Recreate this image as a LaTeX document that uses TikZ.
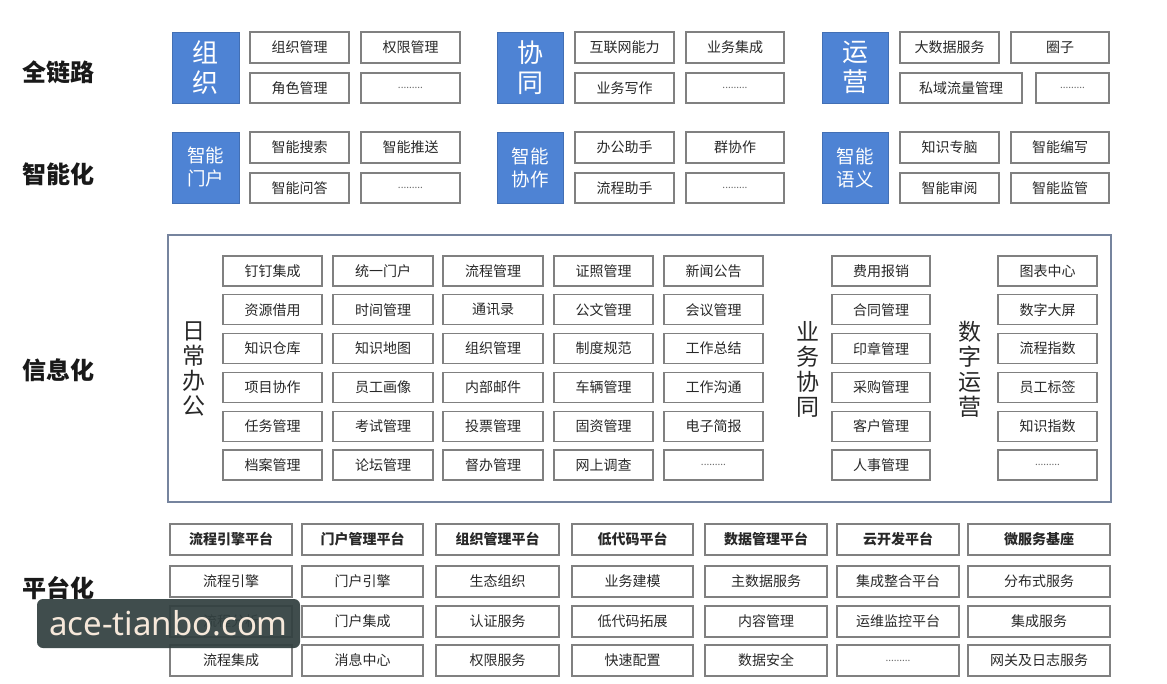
\documentclass[tikz,border=0pt]{standalone}
\usepackage{fontspec}
\setmainfont{Noto Sans CJK SC}
\newfontfamily\wmfont{Noto Sans}
\definecolor{blueb}{RGB}{78,131,212}
\definecolor{boxgray}{RGB}{128,128,128}
\definecolor{txt}{RGB}{40,40,40}
\definecolor{frameb}{RGB}{118,132,158}
\definecolor{wmbg}{RGB}{50,64,64}
\definecolor{wmtx}{RGB}{246,232,218}
\definecolor{dotc}{RGB}{105,105,105}
\newcommand\dotsx{{\fontsize{10}{10}\selectfont\color{dotc}\raisebox{-1pt}{.........}}}
\newcommand\bx[7][]{\node[box,#1,minimum width={(#5-#3)*1pt},minimum height={(#6-#4)*1pt}] (#2) at ({(#3+#5)/2},{(#4+#6)/2}) {#7};}
\begin{document}
\begin{tikzpicture}[x=1pt,y=-1pt,
  box/.style={draw=boxgray,line width=1.3pt,fill=white,inner sep=0pt,text=txt,font=\fontsize{14}{16}\selectfont},
  bluebox/.style={box,fill=blueb,draw=blueb!85!black,line width=0.8pt,text=white,align=center},
  bigtxt/.style={font=\fontsize{26}{30}\selectfont},
  midtxt/.style={font=\fontsize{18.5}{23}\selectfont},
  bold/.style={font=\fontsize{14}{16}\selectfont\bfseries},
  framebox/.style={draw=frameb,line width=1.3pt,fill=none},
  lab/.style={font=\fontsize{24}{26}\selectfont\bfseries,text=black!90},
  vlab/.style={font=\fontsize{23}{25}\selectfont,text=txt,align=center,inner sep=0pt},
  wm/.style={fill=wmbg,fill opacity=0.93,text opacity=1,text=wmtx,rounded corners=6pt,inner sep=0pt,font=\wmfont\fontsize{33}{33}\selectfont}
]
\fill[white] (0,0) rectangle (1167,684);
\useasboundingbox (0,0) rectangle (1167,684);

% section labels
\node[lab] (l1) at (58,72) {全链路};
\node[lab] (l2) at (58,174) {智能化};
\node[lab] (l3) at (58,370) {信息化};
\node[lab] (l4) at (58,588) {平台化};

% ---- 全链路 ----
\bx[bluebox,bigtxt]{b1}{172}{32}{239}{103}{组\\织}
\bx{t11}{250}{32}{349}{63}{组织管理}
\bx{t12}{361}{32}{460}{63}{权限管理}
\bx{t13}{250}{73}{349}{103}{角色管理}
\bx{t14}{361}{73}{460}{103}{\dotsx}
\bx[bluebox,bigtxt]{b2}{497}{32}{563}{103}{协\\同}
\bx{t21}{575}{32}{674}{63}{互联网能力}
\bx{t22}{686}{32}{784}{63}{业务集成}
\bx{t23}{575}{73}{674}{103}{业务写作}
\bx{t24}{686}{73}{784}{103}{\dotsx}
\bx[bluebox,bigtxt]{b3}{822}{32}{888}{103}{运\\营}
\bx{t31}{900}{32}{999}{63}{大数据服务}
\bx{t32}{1011}{32}{1109}{63}{圈子}
\bx{t33}{900}{73}{1022}{103}{私域流量管理}
\bx{t34}{1036}{73}{1109}{103}{\dotsx}

% ---- 智能化 ----
\bx[bluebox,midtxt]{c1}{172}{132}{239}{203}{智能\\门户}
\bx{s11}{250}{132}{349}{163}{智能搜索}
\bx{s12}{361}{132}{460}{163}{智能推送}
\bx{s13}{250}{173}{349}{203}{智能问答}
\bx{s14}{361}{173}{460}{203}{\dotsx}
\bx[bluebox,midtxt]{c2}{497}{132}{563}{203}{智能\\协作}
\bx{s21}{575}{132}{674}{163}{办公助手}
\bx{s22}{686}{132}{784}{163}{群协作}
\bx{s23}{575}{173}{674}{203}{流程助手}
\bx{s24}{686}{173}{784}{203}{\dotsx}
\bx[bluebox,midtxt]{c3}{822}{132}{888}{203}{智能\\语义}
\bx{s31}{900}{132}{999}{163}{知识专脑}
\bx{s32}{1011}{132}{1109}{163}{智能编写}
\bx{s33}{900}{173}{999}{203}{智能审阅}
\bx{s34}{1011}{173}{1109}{203}{智能监管}

% ---- 信息化 ----
\bx[framebox,fill=none]{frame}{168}{235}{1111}{502}{}
\node[vlab] (v1) at (194,369) {日\\常\\办\\公};
\node[vlab] (v2) at (808,369) {业\\务\\协\\同};
\node[vlab] (v3) at (970,369) {数\\字\\运\\营};
\foreach \r/\ta/\tb/\tc/\td/\te/\tf/\tg in {
  0/钉钉集成/统一门户/流程管理/证照管理/新闻公告/费用报销/图表中心,
  1/资源借用/时间管理/通讯录/公文管理/会议管理/合同管理/数字大屏,
  2/知识仓库/知识地图/组织管理/制度规范/工作总结/印章管理/流程指数,
  3/项目协作/员工画像/内部邮件/车辆管理/工作沟通/采购管理/员工标签,
  4/任务管理/考试管理/投票管理/固资管理/电子简报/客户管理/知识指数,
  5/档案管理/论坛管理/督办管理/网上调查/\dotsx/人事管理/\dotsx}{
  \pgfmathsetmacro\yt{256+38.8*\r}
  \pgfmathsetmacro\yb{\yt+30}
  \bx{m\r a}{223}{\yt}{322}{\yb}{\ta}
  \bx{m\r b}{333}{\yt}{433}{\yb}{\tb}
  \bx{m\r c}{443}{\yt}{543}{\yb}{\tc}
  \bx{m\r d}{554}{\yt}{653}{\yb}{\td}
  \bx{m\r e}{664}{\yt}{763}{\yb}{\te}
  \bx{m\r f}{832}{\yt}{930}{\yb}{\tf}
  \bx{m\r g}{998}{\yt}{1097}{\yb}{\tg}
}

% ---- 平台化 ----
\foreach \r/\yt/\yb/\st/\ta/\tb/\tc/\td/\te/\tf/\tg in {
  0/524/555/bold/流程引擎平台/门户管理平台/组织管理平台/低代码平台/数据管理平台/云开发平台/微服务基座,
  1/566/597/box/流程引擎/门户引擎/生态组织/业务建模/主数据服务/集成整合平台/分布式服务,
  2/606/637/box/流程分析/门户集成/认证服务/低代码拓展/内容管理/运维监控平台/集成服务,
  3/645/676/box/流程集成/消息中心/权限服务/快速配置/数据安全/\dotsx/网关及日志服务}{
  \bx[\st]{p\r a}{170}{\yt}{292}{\yb}{\ta}
  \bx[\st]{p\r b}{302}{\yt}{423}{\yb}{\tb}
  \bx[\st]{p\r c}{436}{\yt}{559}{\yb}{\tc}
  \bx[\st]{p\r d}{572}{\yt}{693}{\yb}{\td}
  \bx[\st]{p\r e}{705}{\yt}{827}{\yb}{\te}
  \bx[\st]{p\r f}{837}{\yt}{959}{\yb}{\tf}
  \bx[\st]{p\r g}{968}{\yt}{1110}{\yb}{\tg}
}

% watermark
\node[wm,minimum width=263pt,minimum height=49pt] (wmk) at (168.5,623.5) {ace-tianbo.com};
\end{tikzpicture}
\end{document}
